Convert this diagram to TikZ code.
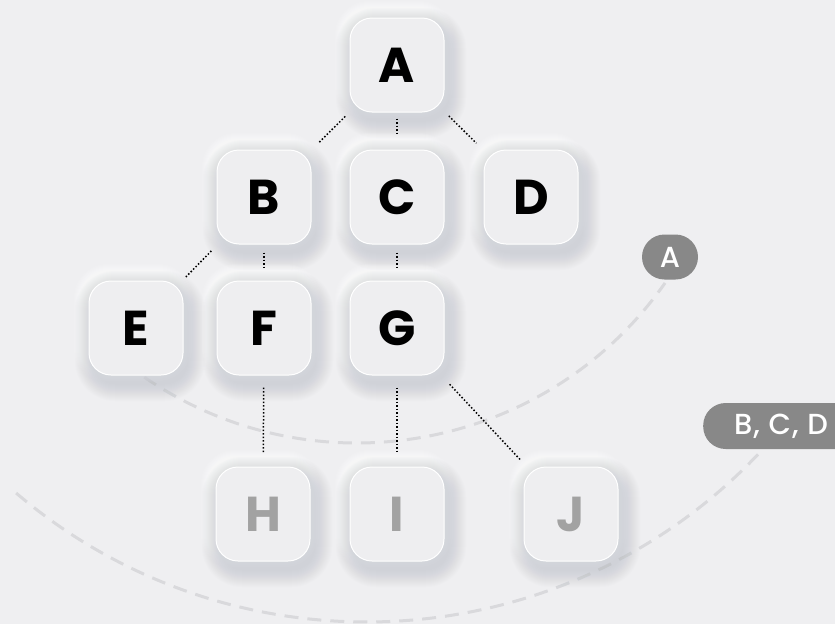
\documentclass[tikz,border=0pt]{standalone}
\usepackage{fontspec}
\newfontfamily\boxfont{Poppins}[UprightFont={* Bold}]
\newfontfamily\tagfont{Poppins}[UprightFont={* Medium}, LetterSpace=4]
\usetikzlibrary{calc}

\definecolor{bgcol}{HTML}{EFEFF1}
\definecolor{boxfill}{HTML}{EEEEF0}
\definecolor{shadedark}{HTML}{B9BDC7}
\definecolor{pillgray}{HTML}{888888}
\definecolor{arccol}{HTML}{D9D9DC}
\definecolor{dimtext}{HTML}{A2A2A2}

\tikzset{
  nbox/.style={rectangle, rounded corners=22pt, minimum size=94pt, inner sep=0pt,
    fill=boxfill, draw=white, line width=1pt,
    font=\boxfont\fontsize{49}{49}\selectfont, text=black},
  dimbox/.style={nbox, text=dimtext},
  link/.style={draw=black, line width=1.5pt, dash pattern=on 1.5pt off 2pt},
  orbit/.style={draw=arccol, line width=3pt, dash pattern=on 14pt off 9pt},
  pill/.style={fill=pillgray, rounded corners=22.5pt, inner sep=0pt},
  pilltext/.style={text=white, font=\tagfont\fontsize{29}{29}\selectfont, inner sep=0pt},
}

% soft neumorphic halo: light above-left, dark below-right
\newcommand\softshadow[2]{%
  \foreach \k in {1,...,12}{%
    \fill[white, opacity=0.10, rounded corners=22pt+\k pt]
      (#1-47-\k-3, #2-47-\k-5) rectangle (#1+47+\k-3, #2+47+\k-5);
  }%
  \foreach \k in {1,...,18}{%
    \fill[shadedark, opacity=0.035, rounded corners=22pt+\k pt]
      (#1-47-\k+4, #2-47-\k+8) rectangle (#1+47+\k+4, #2+47+\k+8);
  }%
}

\begin{document}
\begin{tikzpicture}[x=1pt, y=-1pt]
  \useasboundingbox (0,0) rectangle (835,624);
  \fill[bgcol] (0,0) rectangle (835,624);

  % orbits
  \draw[orbit] (357,66.5) ++(124.4:376.5) arc[start angle=124.4, end angle=35.1, radius=376.5];
  \draw[orbit] (366.6,81.2) ++(130.4:540.8) arc[start angle=130.4, end angle=42.0, radius=540.8];

  % halos
  \softshadow{397}{65}
  \softshadow{264}{197}\softshadow{397}{197}\softshadow{531}{197}
  \softshadow{136}{328}\softshadow{264}{328}\softshadow{397}{328}
  \softshadow{263}{514}\softshadow{397}{514}\softshadow{571}{514}

  % boxes
  \node[nbox] (A) at (397,65) {A};
  \node[nbox] (B) at (264,197) {B};
  \node[nbox] (C) at (397,197) {C};
  \node[nbox] (D) at (531,197) {D};
  \node[nbox] (E) at (136,328) {E};
  \node[nbox] (F) at (264,328) {F};
  \node[nbox] (G) at (397,328) {G};
  \node[dimbox] (H) at (263,514) {H};
  \node[dimbox] (I) at (397,514) {I};
  \node[dimbox] (J) at (571,514) {J};

  % links
  \draw[link, shorten <=6pt, shorten >=10pt] (A) -- (B);
  \draw[link, shorten <=6pt, shorten >=16pt] (A) -- (C);
  \draw[link, shorten <=6pt, shorten >=10pt] (A) -- (D);
  \draw[link, shorten <=9pt, shorten >=3pt] (B) -- (E);
  \draw[link, shorten <=8pt, shorten >=12pt] (B) -- (F);
  \draw[link, shorten <=8pt, shorten >=12pt] (C) -- (G);
  \draw[link, shorten <=12pt, shorten >=13pt] (F) -- (H);
  \draw[link, shorten <=12pt, shorten >=13pt] (G) -- (I);
  \draw[link, shorten <=12pt, shorten >=8pt] (G) -- (J);

  % level tags
  \node[pill, minimum width=56pt, minimum height=45pt] (tagA) at (670,257) {};
  \node[pilltext] (labA) at (tagA) {A};
  \node[pill, minimum width=170pt, minimum height=46pt, anchor=west] (tagB) at (703,426) {};
  \node[pilltext] (labB) at (781,426) {B, C, D};
\end{tikzpicture}
\end{document}
